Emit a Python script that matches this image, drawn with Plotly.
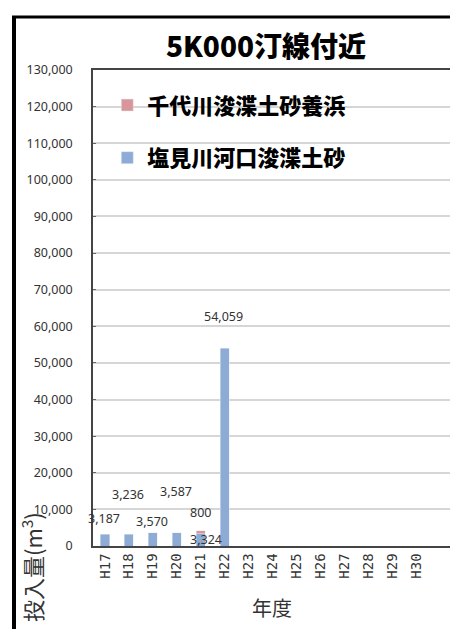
import plotly.graph_objects as go

categories = ["H17", "H18", "H19", "H20", "H21", "H22", "H23", "H24", "H25", "H26", "H27", "H28", "H29", "H30"]
shiomi = [3187, 3236, 3570, 3587, 3324, 54059, None, None, None, None, None, None, None, None]
sendai = [None, None, None, None, 800, None, None, None, None, None, None, None, None, None]
y_ticks = list(range(0, 130001, 10000))

BLUE = "#8eabd6"
PINK = "#d9969a"
NUM_FONT = dict(family="Noto Sans, DejaVu Sans", size=12.5, color="#333333")
JP = "Noto Sans CJK JP"

fig = go.Figure()
fig.add_trace(go.Bar(x=categories, y=shiomi, name="塩見川河口浚渫土砂", marker_color=BLUE,
                     width=0.38, legendgroup="b", legendrank=2))
fig.add_trace(go.Bar(x=categories, y=sendai, name="千代川浚渫土砂養浜", marker_color=PINK,
                     width=0.38, legendgroup="a", legendrank=1))

# data labels (offsets in pixels relative to bar top, as in the original layout)
label_shift = {0: 16, 1: 40, 2: 11, 3: 41, 5: 32}
annotations = []
for i, v in enumerate(shiomi):
    if v is None or i == 4:
        continue
    annotations.append(dict(x=categories[i], y=v, text=f"{v:,}", showarrow=False,
                            yshift=label_shift[i], font=NUM_FONT, xshift=-1))
# H21 stacked labels
annotations.append(dict(x=categories[4], y=shiomi[4], text=f"{shiomi[4]:,}", showarrow=False,
                        yshift=-6, xshift=5, font=NUM_FONT))
annotations.append(dict(x=categories[4], y=shiomi[4] + sendai[4], text=f"{sendai[4]:,}", showarrow=False,
                        yshift=18, xshift=0, font=NUM_FONT))

annotations.append(dict(text="投入量(m<sup>3</sup>)", xref="paper", yref="paper",
                        x=(31 - 93) / 357, y=(546 - 567) / 476, xanchor="center", yanchor="middle",
                        textangle=-90, showarrow=False,
                        font=dict(family=JP, size=22, color="#333333")))
annotations.append(dict(text="年度", xref="paper", yref="paper",
                        x=(272 - 93) / 357, y=(546 - 607) / 476, xanchor="center", yanchor="middle",
                        showarrow=False,
                        font=dict(family=JP, size=20, color="#333333")))

shapes = [
    dict(type="line", xref="paper", yref="paper", x0=(14 - 93) / 357, x1=(14 - 93) / 357,
         y0=(546 - 16) / 476, y1=(546 - 640) / 476, line=dict(color="black", width=4)),
    dict(type="line", xref="paper", yref="paper", x0=(12 - 93) / 357, x1=1.01,
         y0=(546 - 17) / 476, y1=(546 - 17) / 476, line=dict(color="black", width=3)),
]

fig.update_layout(
    width=450, height=629,
    margin=dict(l=93, r=0, t=70, b=83),
    paper_bgcolor="white", plot_bgcolor="white",
    barmode="stack",
    title=dict(text="5K000汀線付近", x=266 / 450, xref="container", xanchor="center",
               y=1 - 47 / 629, yref="container", yanchor="middle",
               font=dict(family=JP, size=28, color="black", weight=900)),
    showlegend=True,
    legend=dict(x=0.04, y=0.97, xanchor="left", yanchor="top", bgcolor="rgba(0,0,0,0)",
                traceorder="grouped", tracegroupgap=21,
                font=dict(family=JP, size=22, color="black", weight=900),
                itemwidth=30),
    annotations=annotations,
    shapes=shapes,
    bargap=0.6,
)
fig.update_xaxes(type="category", categoryorder="array", categoryarray=categories,
                 range=[-0.5, 14.4], tickangle=-90, showline=True, linecolor="#444444",
                 linewidth=1.5, mirror=True, ticks="", showgrid=False,
                 tickfont=dict(family="DejaVu Sans Mono, Liberation Mono", size=14, color="#333333"))
fig.update_yaxes(range=[0, 130000], tickvals=y_ticks, ticktext=[f"{t:,}" for t in y_ticks],
                 showline=True, linecolor="#444444", linewidth=1.5, ticks="inside", ticklen=3,
                 tickcolor="#666666", showgrid=True, gridcolor="#d6d6d6", gridwidth=1.5,
                 ticklabelstandoff=16, zeroline=False,
                 tickfont=NUM_FONT)

fig.write_html("out.html")
